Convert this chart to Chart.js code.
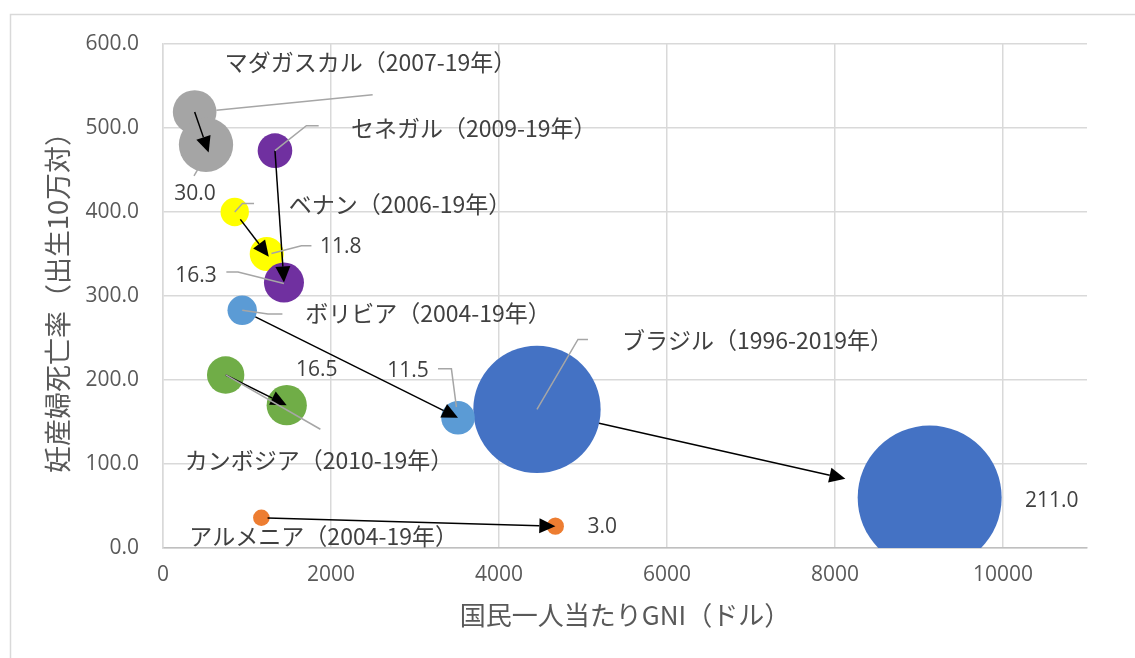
<!DOCTYPE html>
<html><head><meta charset="utf-8">
<script src="https://cdn.jsdelivr.net/npm/chart.js@4.4.1/dist/chart.umd.min.js"></script>
<style>html,body{margin:0;padding:0;background:#fff}#wrap{width:1135px;height:658px}</style>
</head><body><div id="wrap"><canvas id="c" width="1135" height="658"></canvas></div>
<script>
// ---- data ----
const countries = ['マダガスカル','セネガル','ベナン','ボリビア','カンボジア','アルメニア','ブラジル'];
const periods   = ['2007-19年','2009-19年','2006-19年','2004-19年','2010-19年','2004-19年','1996-2019年'];
const gniStart  = [377, 1333, 854, 943, 746, 1171, 4452];
const mmrStart  = [519, 473, 400, 283, 206, 36, 165];
const popStart  = [19.4, 12.2, 8.2, 8.8, 14.2, 2.8, 165];
const gniEnd    = [512, 1440, 1235, 3512, 1473, 4671, 9127];
const mmrEnd    = [480, 316, 350, 155, 170, 26, 60];
const popEnd    = [30.0, 16.3, 11.8, 11.5, 16.5, 3.0, 211.0];
const xTicks = [0, 2000, 4000, 6000, 8000, 10000];
const yTicks = [0, 100, 200, 300, 400, 500, 600];

// ---- style ----
const colors = ['#a5a5a5','#7030a0','#ffff00','#5b9bd5','#70ad47','#ed7d31','#4472c4'];
const MAX_R = 72;
const maxPop = Math.max(...popStart, ...popEnd);
const radius = p => MAX_R * Math.sqrt(p / maxPop);
const JP = "'Noto Sans CJK JP', sans-serif";
const NUM = "'Open Sans', 'Noto Sans CJK JP', sans-serif";
// label placement relative to the bubble centre (pixels)
const nameLbl = [
  {dx:30, dy:-50, lead:[[21.7,-1.7],[178,-17.4]]},
  {dx:76, dy:-22, lead:[[0,0],[31.4,-25],[43.7,-25]]},
  {dx:54, dy:-8,  lead:[[0,0],[7.7,-8.4],[19.3,-8.4]]},
  {dx:63, dy:3,   lead:[[0,0],[25.8,3.7],[40.2,3.7]]},
  {dx:-41,dy:85,  lead:[[0,0],[94.7,54.3]]},
  {dx:-72,dy:19,  lead:null},
  {dx:85, dy:-69, lead:[[0,0],[41,-70],[51,-70]]}
];
const valLbl = [
  {dx:-11,dy:49,  lead:[[-12,31],[-8.5,25]]},
  {dx:-88,dy:-7,  lead:[[0,1],[-46,-10.6],[-57.6,-10.6]]},
  {dx:74, dy:-7,  lead:[[4.7,-0.6],[34.7,-8.3],[44.7,-8.3]]},
  {dx:-50,dy:-47, lead:[[-20,-49],[-6.6,-49],[-1.6,-10.6]]},
  {dx:30, dy:-35, lead:null},
  {dx:47, dy:1,   lead:null},
  {dx:122,dy:3,   lead:null}
];
// arrow trims as fraction of radius: [start, end]
const arrowTrim = [[0,-0.3],[0,0],[0.65,-0.2],[1,0],[0,0],[0.75,0],[1,1.2]];

const datasets = countries.map((c, i) => ({
  label: c,
  data: [
    {x: gniStart[i], y: mmrStart[i], r: radius(popStart[i])},
    {x: gniEnd[i],   y: mmrEnd[i],   r: radius(popEnd[i])}
  ],
  backgroundColor: colors[i],
  borderWidth: 0,
  hoverBorderWidth: 0,
  clip: 0
}));

const frame = {
  id: 'frame',
  beforeDraw(chart) {
    const c = chart.ctx; c.save();
    c.fillStyle = '#fff'; c.fillRect(0, 0, chart.width, chart.height);
    c.strokeStyle = '#d9d9d9'; c.lineWidth = 1.5;
    c.strokeRect(10.5, 14.5, chart.width + 40, chart.height + 40);
    c.restore();
  }
};

function drawPoly(c, cx, cy, pts) {
  c.beginPath();
  pts.forEach((p, k) => k ? c.lineTo(cx + p[0], cy + p[1]) : c.moveTo(cx + p[0], cy + p[1]));
  c.stroke();
}

const annot = {
  id: 'annot',
  afterDatasetsDraw(chart) {
    const c = chart.ctx; c.save();
    // arrows
    countries.forEach((_, i) => {
      const m = chart.getDatasetMeta(i);
      const a = m.data[0], b = m.data[1];
      const dx = b.x - a.x, dy = b.y - a.y, L = Math.hypot(dx, dy), ux = dx / L, uy = dy / L;
      const r0 = radius(popStart[i]) * arrowTrim[i][0], r1 = radius(popEnd[i]) * arrowTrim[i][1];
      const sx = a.x + ux * r0, sy = a.y + uy * r0;
      const tx = b.x - ux * r1, ty = b.y - uy * r1;
      const hl = 16, hw = 7.5;
      const bx = tx - ux * hl, by = ty - uy * hl;
      c.strokeStyle = '#000'; c.lineWidth = 1.5;
      c.beginPath(); c.moveTo(sx, sy); c.lineTo(bx, by); c.stroke();
      c.fillStyle = '#000';
      c.beginPath(); c.moveTo(tx, ty);
      c.lineTo(bx - uy * hw, by + ux * hw);
      c.lineTo(bx + uy * hw, by - ux * hw);
      c.closePath(); c.fill();
    });
    // leaders + labels
    c.strokeStyle = '#a6a6a6'; c.lineWidth = 1.5;
    c.fillStyle = '#404040'; c.textBaseline = 'middle';
    countries.forEach((name, i) => {
      const m = chart.getDatasetMeta(i);
      const a = m.data[0], b = m.data[1];
      const n = nameLbl[i], v = valLbl[i];
      if (n.lead) drawPoly(c, a.x, a.y, n.lead);
      if (v.lead) drawPoly(c, b.x, b.y, v.lead);
      c.font = '23px ' + JP; c.textAlign = 'left';
      c.fillText(name + '（' + periods[i] + '）', a.x + n.dx, a.y + n.dy);
      c.font = '21px ' + NUM; c.textAlign = 'center';
      c.fillText(popEnd[i].toFixed(1), b.x + v.dx, b.y + v.dy);
    });
    c.restore();
  }
};

new Chart(document.getElementById('c'), {
  type: 'bubble',
  data: { datasets },
  plugins: [frame, annot],
  options: {
    responsive: false,
    devicePixelRatio: 1,
    animation: false,
    events: [],
    layout: { autoPadding: false, padding: { left: 0, top: 44, right: 48, bottom: 0 } },
    plugins: { legend: { display: false }, tooltip: { enabled: false } },
    scales: {
      x: {
        type: 'linear', min: 0, max: 11000,
        afterFit: s => { s.height = 110; },
        afterBuildTicks: s => { s.ticks = xTicks.map(v => ({ value: v })); },
        ticks: { padding: 14, color: '#595959', font: { family: NUM, size: 21 }, callback: v => String(v) },
        grid: { color: '#d9d9d9', lineWidth: 1.5, drawTicks: false },
        border: { color: '#bfbfbf', width: 1.5 },
        title: { display: true, text: '国民一人当たりGNI（ドル）', color: '#595959',
                 font: { family: JP, size: 26 }, padding: { bottom: 27, top: 0 } }
      },
      y: {
        type: 'linear', min: 0, max: 600,
        afterFit: s => { s.width = 163; },
        afterBuildTicks: s => { s.ticks = yTicks.map(v => ({ value: v })); },
        ticks: { padding: 24, color: '#595959', font: { family: NUM, size: 21 }, callback: v => v.toFixed(1) },
        grid: { color: '#d9d9d9', lineWidth: 1.5, drawTicks: false },
        border: { color: '#d9d9d9', width: 1.5 },
        title: { display: true, text: '妊産婦死亡率（出生10万対）', color: '#595959',
                 font: { family: JP, size: 27 }, padding: { top: 42, bottom: 0 } }
      }
    }
  }
});
</script></body></html>
